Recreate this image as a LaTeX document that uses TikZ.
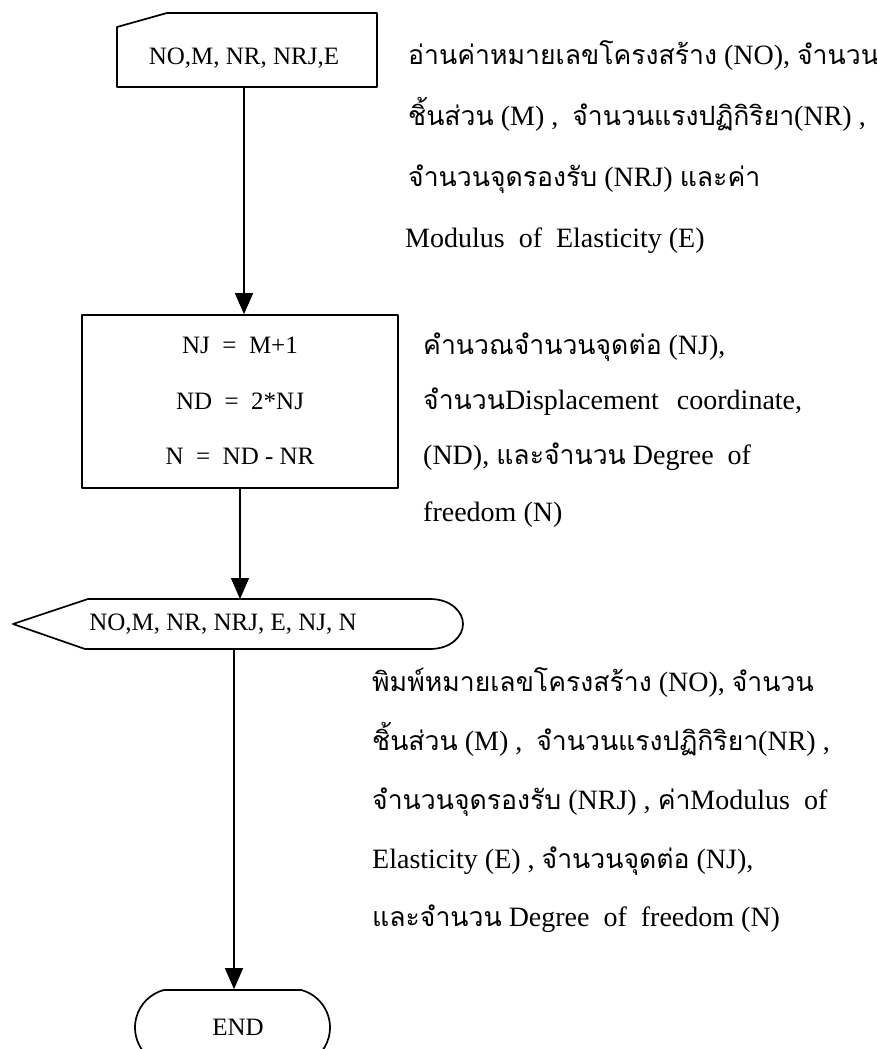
\documentclass[tikz,border=0pt]{standalone}
\usepackage{fontspec}
\setmainfont{Liberation Serif}
\newfontfamily\thaifont[Script=Thai,Scale=0.95]{Loma}
\newcommand\thx[1]{{\thaifont #1}}
\usetikzlibrary{arrows.meta,shapes.misc}

\begin{document}
\begin{tikzpicture}[x=1pt,y=-1pt,
  shapeline/.style={line width=1.7pt, line join=round},
  flowarrow/.style={line width=1.5pt,-{Triangle[length=21pt,width=18pt]}},
  boxtext/.style={font=\fontsize{25}{30}\selectfont, inner sep=0pt},
  desc/.style={anchor=base west, inner sep=0pt, font=\fontsize{28}{34}\selectfont},
  ghost/.style={inner sep=0pt, outer sep=0pt}]

\useasboundingbox (0,0) rectangle (877,1049);
\clip (0,0) rectangle (877,1049);

% ---- input (manual input shape) ----
\node[ghost, minimum width=260pt, minimum height=74pt] (inbox) at (247,50) {};
\draw[shapeline] (inbox.south west) -- ([yshift=-14pt]inbox.north west)
  -- ([xshift=50pt]inbox.north west) -- (inbox.north east)
  -- (inbox.south east) -- cycle;
\node[boxtext] (intxt) at (244,58) {NO,M, NR, NRJ,E};

% ---- process box ----
\node[draw, shapeline, minimum width=316pt, minimum height=173pt] (proc) at (240,401.5) {};
\node[boxtext] (p1) at (240,345) {NJ~~=~~M+1};
\node[boxtext] (p2) at (240,401) {ND~~=~~2*NJ};
\node[boxtext] (p3) at (240,456) {N~~=~~ND - NR};

% ---- output (display shape) ----
\node[ghost, minimum width=450pt, minimum height=50pt] (outp) at (238,624) {};
\draw[shapeline] (outp.west) -- ([xshift=75pt]outp.north west)
  -- ([xshift=-33pt]outp.north east)
  .. controls ([xshift=-12pt]outp.north east) and ([yshift=12pt]outp.east) .. (outp.east)
  .. controls ([yshift=-12pt]outp.east) and ([xshift=-12pt]outp.south east) .. ([xshift=-33pt]outp.south east)
  -- ([xshift=72pt]outp.south west) -- cycle;
\node[boxtext] (outtxt) at (223,624) {NO,M, NR, NRJ, E, NJ, N};

% ---- terminator ----
\node[draw, shapeline, rounded rectangle, rounded rectangle arc length=150,
  minimum width=195pt, minimum height=75pt, inner sep=0pt] (endnode) at (232.5,1027.5) {};
\node[boxtext] (endtxt) at (238,1027) {END};

% ---- flow connectors ----
\draw[flowarrow] ([xshift=-3pt]inbox.south) -- ([xshift=-3pt]inbox.south |- proc.north);
\draw[flowarrow] (proc.south) -- (proc.south |- outp.north);
\draw[flowarrow] ([xshift=-4pt]outp.south) -- ([xshift=-4pt]outp.south |- endnode.north);

% ---- description of the input step ----
\node[desc] (d1a) at (408,64) {\thx{อ่านค่าหมายเลขโครงสร้าง} (NO), \thx{จำนวน}};
\node[desc] (d1b) at (408,125) {\thx{ชิ้นส่วน} (M) ,~~\thx{จำนวนแรงปฏิกิริยา}(NR) ,};
\node[desc] (d1c) at (408,186) {\thx{จำนวนจุดรองรับ} (NRJ) \thx{และค่า}};
\node[desc] (d1d) at (405,247) {Modulus~~of~~Elasticity (E)};

% ---- description of the process step ----
\node[desc] (d2a) at (423,354) {\thx{คำนวณจำนวนจุดต่อ} (NJ),};
\node[desc] (d2b) at (423,409) {\thx{จำนวน}Displacement\hspace{18pt}coordinate,};
\node[desc] (d2c) at (423,464) {(ND), \thx{และจำนวน} Degree\hspace{14pt}of};
\node[desc] (d2d) at (423,521) {freedom (N)};

% ---- description of the output step ----
\node[desc] (d3a) at (372,691) {\thx{พิมพ์หมายเลขโครงสร้าง} (NO), \thx{จำนวน}};
\node[desc] (d3b) at (372,750) {\thx{ชิ้นส่วน} (M) ,~~\thx{จำนวนแรงปฏิกิริยา}(NR) ,};
\node[desc] (d3c) at (372,809) {\thx{จำนวนจุดรองรับ} (NRJ) , \thx{ค่า}Modulus~~of};
\node[desc] (d3d) at (372,868) {Elasticity (E) , \thx{จำนวนจุดต่อ} (NJ),};
\node[desc] (d3e) at (372,926) {\thx{และจำนวน} Degree~~of~~freedom (N)};

\end{tikzpicture}
\end{document}
